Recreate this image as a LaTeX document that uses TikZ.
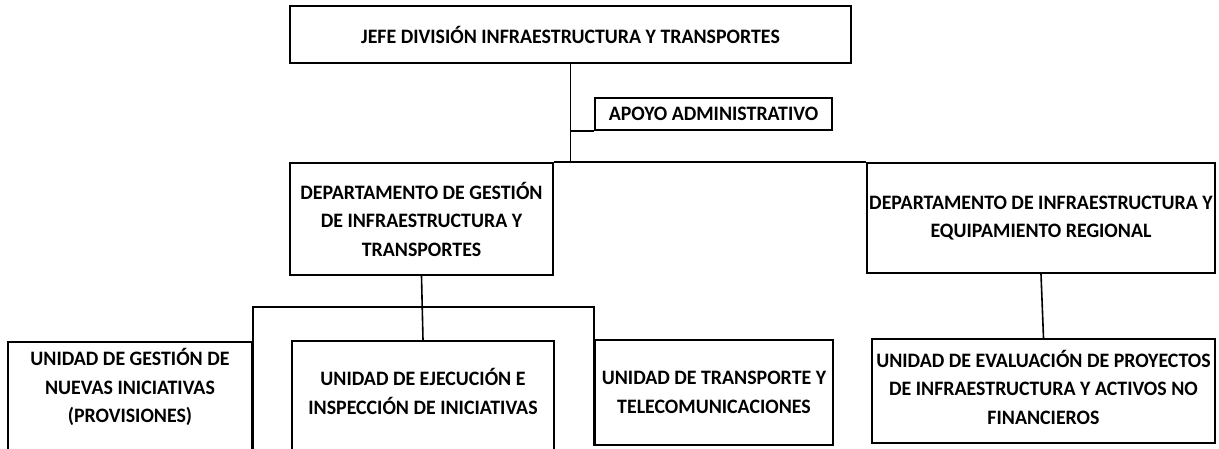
\documentclass[tikz,border=0pt]{standalone}
\usepackage{fontspec}
\setmainfont{Carlito}[FakeStretch=0.97]
\usetikzlibrary{positioning}

\begin{document}
\begin{tikzpicture}[x=1pt,y=-1pt]
    \tikzstyle{every node}+=[inner sep=0pt]
    \tikzstyle{unittext}=[align=center, font=\fontsize{20.5}{28.5}\selectfont\bfseries]
    \tikzstyle{unit}=[unittext, draw=black, line width=2.2pt]
    \tikzstyle{link}=[draw=black, line width=1.6pt]
    \useasboundingbox (0,0) rectangle (1219,448);
    % jefatura
    \node [unit, minimum width=561pt, minimum height=57pt] (jefe) at (570.5,34.5) {JEFE DIVISIÓN INFRAESTRUCTURA Y TRANSPORTES};
    \node [unit, minimum width=237pt, minimum height=32pt] (apoyo) at (713.5,114) {APOYO ADMINISTRATIVO};
    % departamentos
    \node [unit, minimum width=263pt, minimum height=112pt] (depgest) at (421.5,219) {DEPARTAMENTO DE GESTIÓN\\DE INFRAESTRUCTURA Y\\TRANSPORTES};
    \node [unit, minimum width=348pt, minimum height=110pt] (depinfra) at (1041,218) {DEPARTAMENTO DE INFRAESTRUCTURA Y\\EQUIPAMIENTO REGIONAL};
    % unidades (las dos primeras quedan cortadas abajo)
    \node [unit, minimum width=244pt, minimum height=110pt] (ugest) at (130,397) {};
    \node [unittext] (ugest-txt) at (130,387) {UNIDAD DE GESTIÓN DE\\NUEVAS INICIATIVAS\\(PROVISIONES)};
    \node [unit, minimum width=262pt, minimum height=110pt] (uejec) at (423,396) {};
    \node [unittext] (uejec-txt) at (423,391.5) {UNIDAD DE EJECUCIÓN E\\INSPECCIÓN DE INICIATIVAS};
    \node [unit, minimum width=238pt, minimum height=105pt] (utrans) at (714,392.5) {UNIDAD DE TRANSPORTE Y\\TELECOMUNICACIONES};
    \node [unit, minimum width=343pt, minimum height=104pt] (ueval) at (1043.5,391) {};
    \node [unittext] (ueval-txt) at (1043.5,387) {UNIDAD DE EVALUACIÓN DE  PROYECTOS\\DE INFRAESTRUCTURA Y ACTIVOS NO\\FINANCIEROS};
    \coordinate (bracket) at (421,307);
    % lineas
    \draw [link] (jefe.south) -- (jefe.south |- depgest.north);
    \draw [link] (apoyo.south west) -- (apoyo.south west -| jefe.south);
    \draw [link] (depgest.north east) -- (depinfra.north west);
    \draw [link] (depgest.south) -- (uejec.north);
    \draw [link] (ugest.south east) |- (bracket) -| (utrans.south west);
    \draw [link] (depinfra.south) -- (ueval.north);
\end{tikzpicture}
\end{document}
